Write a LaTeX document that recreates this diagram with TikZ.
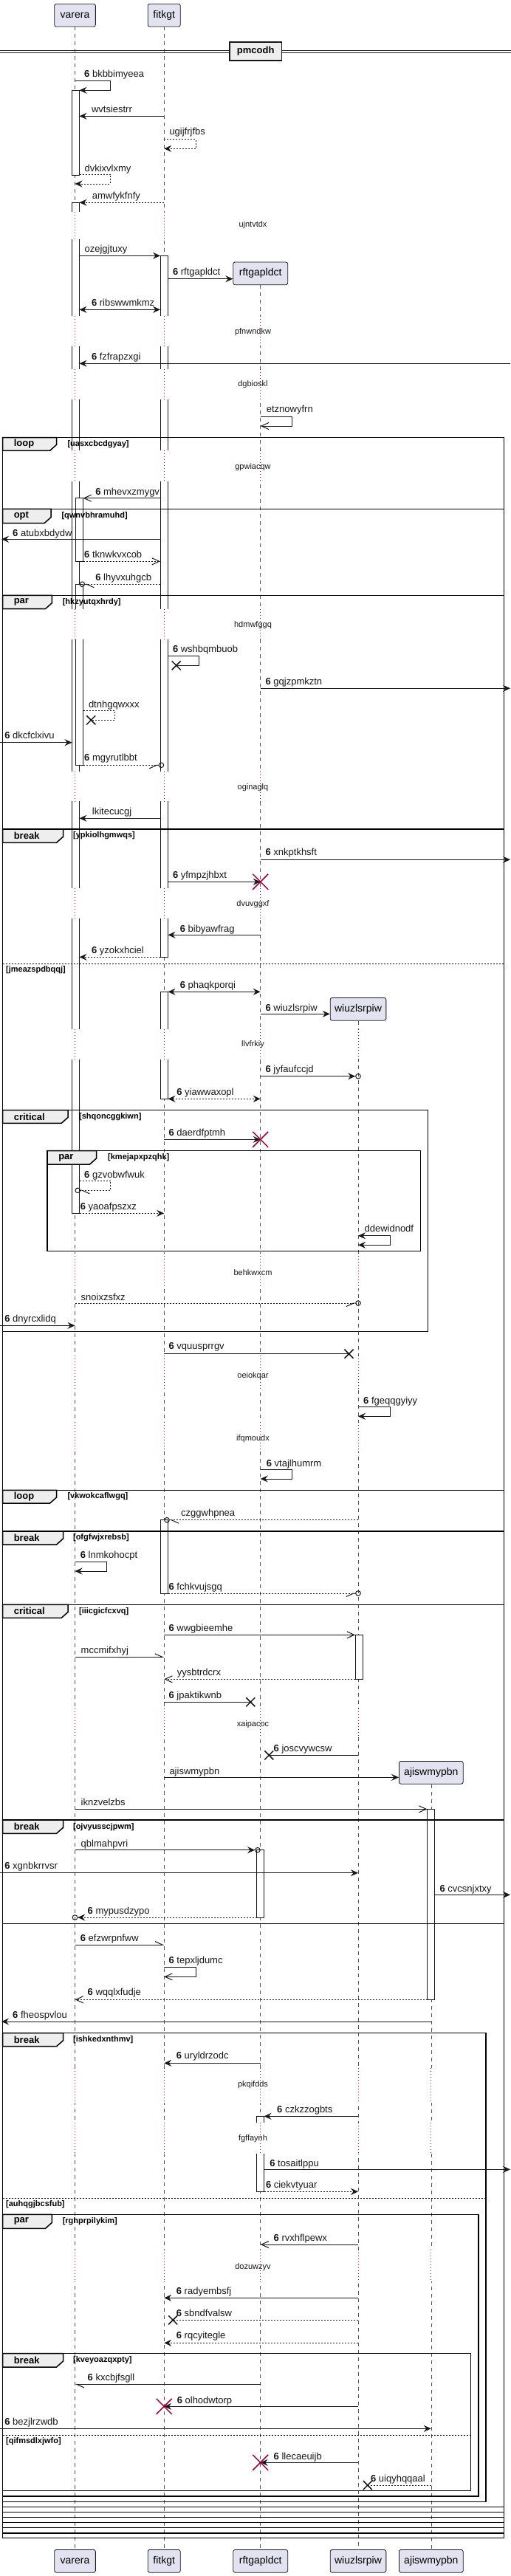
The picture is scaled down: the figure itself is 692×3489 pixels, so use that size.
\documentclass[tikz,border=0pt]{standalone}
\usepackage{fontspec}
\setmainfont{Liberation Sans}
\usetikzlibrary{arrows.meta,calc}
\definecolor{lc}{HTML}{181818}
\definecolor{pfill}{HTML}{E2E2F0}
\definecolor{tfill}{HTML}{EEEEEE}
\definecolor{dred}{HTML}{A80036}
\definecolor{llc}{HTML}{555555}
\newcommand\grpframe[9]{%
  \draw[frm] (#3,#1) rectangle (#4,#2);
  \filldraw[frm,fill=tfill] (#3,#1) -- (#5,#1) -- (#5,#6-8) -- (#5-9,#6) -- (#3,#6) -- cycle;
  \node[kwd] (k#8) at ({#3+15},{(#1+#6)/2}) {#7};
  \node[cnd] (c#8) at (#9,{(#1+#6)/2}) {[#8]};
}
\newcommand\bxm[1]{\draw[xm] ($(#1)+(-6,-6)$) -- ($(#1)+(6,6)$) ($(#1)+(-6,6)$) -- ($(#1)+(6,-6)$);}
\newcommand\rxm[1]{\draw[rxmk] ($(#1)+(-10.5,-10.5)$) -- ($(#1)+(10.5,10.5)$) ($(#1)+(-10.5,10.5)$) -- ($(#1)+(10.5,-10.5)$);}
\begin{document}
\begin{tikzpicture}[x=1pt,y=-1pt,
  lbl/.style={anchor=base west,inner sep=0pt,font=\fontsize{13pt}{15pt}\selectfont,text=lc},
  dlyt/.style={inner sep=0pt,font=\fontsize{11pt}{13pt}\selectfont,text=lc},
  kwd/.style={anchor=west,inner sep=0pt,font=\bfseries\fontsize{13pt}{15pt}\selectfont},
  cnd/.style={anchor=west,inner sep=0pt,font=\bfseries\fontsize{11pt}{13pt}\selectfont},
  part/.style={draw=lc,line width=0.8pt,fill=pfill,rounded corners=2.5pt,inner sep=0pt,minimum height=30.7pt,font=\fontsize{14pt}{16pt}\selectfont},
  act/.style={draw=lc,line width=1pt,fill=white},
  msg/.style={draw=lc,line width=1pt},
  dsh/.style={dash pattern=on 2pt off 2pt},
  lifel/.style={draw=llc,line width=0.6pt,dash pattern=on 5pt off 5pt},
  dotl/.style={draw=dred,line width=0.8pt,dash pattern=on 1pt off 3pt},
  frm/.style={draw=black,line width=1.5pt},
  elsel/.style={draw=black,line width=1pt,dash pattern=on 2pt off 2pt},
  xm/.style={draw=lc,line width=1.5pt},
  rxmk/.style={draw=dred,line width=1.5pt},
  tF/.style={-{Stealth[length=10pt,width=9pt,inset=3.5pt]}},
  tFF/.style={{Stealth[length=10pt,width=9pt,inset=3.5pt]}-{Stealth[length=10pt,width=9pt,inset=3.5pt]}},
  tO/.style={-{Straight Barb[length=10pt,width=9pt]}},
  tH/.style={-{Straight Barb[left,length=10pt,width=9pt]}},
  tFC/.style={-{Stealth[length=10pt,width=9pt,inset=3.5pt]Circle[open,length=7.6pt]}},
  tOCr/.style={-{Straight Barb[right,length=10pt,width=9pt]Circle[open,length=7.6pt]}},
  tOCl/.style={-{Straight Barb[left,length=10pt,width=9pt]Circle[open,length=7.6pt]}}
]
\useasboundingbox (0,0) rectangle (692,3489);
\fill[white] (0,0) rectangle (692,3489);
% lifeline coordinates
\coordinate (va) at (101.5,0);
\coordinate (vaL) at (97.5,0);
\coordinate (vaR) at (107.5,0);
\coordinate (vnR) at (112.5,0);
\coordinate (vaO) at (97.7,0);
\coordinate (fi) at (222.2,0);
\coordinate (fiL) at (217,0);
\coordinate (fiR) at (227.5,0);
\coordinate (rf) at (352.7,0);
\coordinate (rfL) at (347.5,0);
\coordinate (rfR) at (357.5,0);
\coordinate (wi) at (485,0);
\coordinate (wiL) at (481,0);
\coordinate (wiO) at (488.8,0);
\coordinate (aj) at (583.8,0);
\coordinate (ajL) at (578.5,0);
\coordinate (ajR) at (588.5,0);
\coordinate (LE) at (0,0);
\coordinate (LE2) at (2,0);
\coordinate (RE) at (691,0);
% participants
\node[part,minimum width=55.7pt] (pva) at (101.5,20.65) {varera};
\node[part,minimum width=44.1pt] (pfi) at (222.2,20.65) {fitkgt};
\node[part,minimum width=73.9pt] (prf) at (352.7,370.35) {rftgapldct};
\node[part,minimum width=75.7pt] (pwi) at (485,1366.8) {wiuzlsrpiw};
\node[part,minimum width=86.8pt] (paj) at (583.8,2400.8) {ajiswmypbn};
\node[part,minimum width=55.7pt] (bva) at (101.5,3468.8) {varera};
\node[part,minimum width=44.1pt] (bfi) at (222.2,3468.8) {fitkgt};
\node[part,minimum width=73.9pt] (brf) at (352.7,3468.8) {rftgapldct};
\node[part,minimum width=75.7pt] (bwi) at (485,3468.8) {wiuzlsrpiw};
\node[part,minimum width=86.8pt] (baj) at (583.8,3468.8) {ajiswmypbn};
% lifelines
\draw[lifel] (pva.south) -- (bva.north);
\draw[lifel] (pfi.south) -- (bfi.north);
\draw[lifel] (prf.south) -- (brf.north);
\draw[lifel] (pwi.south) -- (bwi.north);
\draw[lifel] (paj.south) -- (baj.north);
% activations
\draw[act] (97.5,122.3) rectangle (107.5,237.3);
\draw[act] (97.5,274.3) rectangle (107.5,1643.3);
\draw[act] (217,346.3) rectangle (227.5,1296.3);
\draw[act] (102.5,674.7) rectangle (112.5,760.3);
\draw[act] (102.5,791.3) rectangle (112.5,1036.3);
\draw[act] (217,1343.3) rectangle (227.5,1488.3);
\draw[act] (217,2058.7) rectangle (227.5,2158);
\draw[act] (481,2214.3) rectangle (491,2274.3);
\draw[act] (578.5,2450.3) rectangle (588.5,2708.3);
\draw[act] (347.5,2505.7) rectangle (357.5,2597.3);
\draw[act] (347.5,2866.3) rectangle (357.5,2968.3);
% delays
\foreach \ya/\yb/\yt/\tx in {287/324.3/304.3/ujntvtdx}{
  \fill[white] (0,\ya) rectangle (692,\yb);
  \foreach \xx in {101.5,222.2} \draw[dotl] (\xx,\ya) -- (\xx,\yb);
  \node[dlyt] (\tx) at (342.5,\yt) {\tx};
}
\foreach \ya/\yb/\yt/\tx in {427.7/469.3/449.3/pfnwndkw,500.3/541/521/dgbioskl,610.3/652/632.7/gpwiacqw,824.7/866/846.3/hdmwfggq,1044.7/1085/1066.3/oginaglq,1203/1244/1224.3/dvuvggxf}{
  \fill[white] (0,\ya) rectangle (692,\yb);
  \foreach \xx in {101.5,222.2,352.7} \draw[dotl] (\xx,\ya) -- (\xx,\yb);
  \node[dlyt] (\tx) at (342.5,\yt) {\tx};
}
\foreach \ya/\yb/\yt/\tx in {1394/1434.7/1415/llvfrkiy,1697/1745/1723.3/behkwxcm,1836/1883/1863.3/oeiokqar,1926/1966.7/1948.3/ifqmoudx,2313.7/2353/2335.3/xaipacoc}{
  \fill[white] (0,\ya) rectangle (692,\yb);
  \foreach \xx in {101.5,222.2,352.7,485} \draw[dotl] (\xx,\ya) -- (\xx,\yb);
  \node[dlyt] (\tx) at (342.5,\yt) {\tx};
}
\foreach \ya/\yb/\yt/\tx in {2801/2848/2824/pkqifdds,2875/2917/2896.3/fgffaynh,3046.7/3090/3070.3/dozuwzyv}{
  \fill[white] (0,\ya) rectangle (692,\yb);
  \foreach \xx in {101.5,222.2,352.7,485,583.8} \draw[dotl] (\xx,\ya) -- (\xx,\yb);
  \node[dlyt] (\tx) at (342.5,\yt) {\tx};
}
% frames
\grpframe{592.7}{3437.7}{3.6}{682.6}{76.6}{610.3}{loop}{uasxcbcdgyay}{91.3}
\grpframe{689.3}{3431}{3.6}{682.6}{69}{708.7}{opt}{qwnvbhramuhd}{83.3}
\grpframe{806.3}{3423.7}{3.6}{682.6}{70.4}{824.7}{par}{hkzyutqxhrdy}{84.6}
\grpframe{1123}{3416.7}{3.6}{682.6}{85.5}{1141.3}{break}{ypkiolhgmwqs}{98.9}
\grpframe{1503.7}{1803.3}{3.6}{579.4}{92.2}{1521.3}{critical}{shqoncggkiwn}{106.9}
\grpframe{1558.7}{1694.3}{64.1}{569.5}{130.5}{1577}{par}{kmejapxpzqhk}{146}
\grpframe{2018.3}{3409.3}{3.6}{682.6}{76.6}{2036}{loop}{vkwokcaflwgq}{91.3}
\grpframe{2074}{3402.3}{3.6}{682.6}{85.5}{2092}{break}{ofgfwjxrebsb}{98.9}
\grpframe{2173.3}{3395.3}{3.6}{682.6}{92.2}{2191.3}{critical}{iiicgicfcxvq}{106.9}
\grpframe{2465}{2605.3}{3.6}{682.6}{85.5}{2483.3}{break}{ojvyusscjpwm}{98.9}
\grpframe{2753.7}{3388.3}{3.6}{658.2}{85.5}{2771.7}{break}{ishkedxnthmv}{98.9}
\grpframe{2999.3}{3381}{3.6}{647.9}{70.4}{3018.3}{par}{rghprpilykim}{84.6}
\grpframe{3187.7}{3373.7}{3.6}{637.7}{85.5}{3206}{break}{kveyoazqxpty}{98.9}
\draw[elsel] (3.6,1305) -- (682.6,1305);
\node[cnd] (e1) at (8,1313.3) {[jmeazspdbqqj]};
\draw[elsel] (3.6,2977.3) -- (658.2,2977.3);
\node[cnd] (e2) at (8,2985.3) {[auhqgjbcsfub]};
\draw[elsel] (3.6,3298.3) -- (637.7,3298.3);
\node[cnd] (e3) at (8,3306.3) {[qifmsdlxjwfo]};
% divider
\draw[draw=lc,line width=1pt] (0,68.5) -- (692,68.5) (0,71.5) -- (692,71.5);
\node[draw=lc,line width=1.5pt,fill=tfill,minimum width=70.8pt,minimum height=25pt,inner sep=0pt,font=\bfseries\fontsize{13pt}{15pt}\selectfont] (sepb) at (346.2,69.5) {pmcodh};
% X coordinates
\coordinate (x15) at (238.7,901.3);
\coordinate (x17) at (123.3,975.3);
\coordinate (x35) at (472.5,1833.7);
\coordinate (x44) at (339.3,2305.3);
\coordinate (x45) at (364.3,2377.3);
\coordinate (x62) at (234.2,3142.3);
\coordinate (x68) at (497.8,3366);
\coordinate (r22) at (rf |- 0,1194.3);
\coordinate (r29) at (rf |- 0,1543.3);
\coordinate (r65) at (fi |- 0,3259.3);
\coordinate (r67) at (rf |- 0,3335.3);
% messages
\draw[msg,tF] (va |- 0,109.3) -| (149.6,122.3) -- (vaR |- 0,122.3);
\node[lbl] (l1) at (114,104) {\textbf{6} bkbbimyeea};
\draw[msg,tF] (fi |- 0,157.3) -- (vaR |- 0,157.3);
\node[lbl] (l2) at (123.8,152.7) {wvtsiestrr};
\draw[msg,dsh,tF] (fi |- 0,188.3) -| (265,201.3) -- (fi |- 0,201.3);
\node[lbl] (l3) at (229.3,182.7) {ugijfrjfbs};
\draw[msg,dsh,tF] (vaR |- 0,236.3) -| (149.6,249) -- (va |- 0,249);
\node[lbl] (l4) at (114.4,232.3) {dvkixvlxmy};
\draw[msg,dsh,tF] (fi |- 0,274.3) -- (vaR |- 0,274.3);
\node[lbl] (l5) at (124.7,269.7) {amwfykfnfy};
\draw[msg,tF] (vaR |- 0,346.3) -- (fiL |- 0,346.3);
\node[lbl] (l6) at (114.4,341.7) {ozejgjtuxy};
\draw[msg,tF] (fiR |- 0,377.7) -- (prf.west |- 0,377.7);
\node[lbl] (l7) at (233.8,372) {\textbf{6} rftgapldct};
\draw[msg,tFF] (vaR |- 0,419.3) -- (fiL |- 0,419.3);
\node[lbl] (l8) at (123.8,414.3) {\textbf{6} ribswwmkmz};
\draw[msg,tF] (RE |- 0,492.3) -- (vaR |- 0,492.3);
\node[lbl] (l9) at (123.8,487) {\textbf{6} fzfrapzxgi};
\draw[msg,tO] (rf |- 0,564.3) -| (395,577) -- (rf |- 0,577);
\node[lbl] (l10) at (360.7,558.7) {etznowyfrn};
\draw[msg,tO] (fiL |- 0,674.7) -- (vnR |- 0,674.7);
\node[lbl] (l11) at (129.1,670.3) {\textbf{6} mhevxzmygv};
\draw[msg,tF] (fiL |- 0,730.3) -- (LE2 |- 0,730.3);
\node[lbl] (l12) at (17,726) {\textbf{6} atubxbdydw};
\draw[msg,dsh,tO] (vnR |- 0,760.3) -- (fiL |- 0,760.3);
\node[lbl] (l13) at (114,755) {\textbf{6} tknwkvxcob};
\draw[msg,dsh,tOCl] (fiL |- 0,791.3) -- (vaR |- 0,791.3);
\node[lbl] (l14) at (129.1,786) {\textbf{6} lhyvxuhgcb};
\draw[msg] (fiR |- 0,888.3) -| (269.9,901.3) -- (x15);
\bxm{x15}
\node[lbl] (l15) at (233.8,883.7) {\textbf{6} wshbqmbuob};
\draw[msg,tF] (rf |- 0,932.3) -- (RE |- 0,932.3);
\node[lbl] (l16) at (359.4,927) {\textbf{6} gqjzpmkztn};
\draw[msg,dsh] (vnR |- 0,962.3) -| (155,975.3) -- (x17);
\bxm{x17}
\node[lbl] (l17) at (119.8,958) {dtnhgqwxxx};
\draw[msg,tF] (LE |- 0,1005.7) -- (vaL |- 0,1005.7);
\node[lbl] (l18) at (6.2,1000.7) {\textbf{6} dkcfclxivu};
\draw[msg,dsh,tOCr] (vnR |- 0,1036.3) -- (fi |- 0,1036.3);
\node[lbl] (l19) at (114,1030.7) {\textbf{6} mgyrutlbbt};
\draw[msg,tF] (fiL |- 0,1108.3) -- (vaR |- 0,1108.3);
\node[lbl] (l20) at (124.7,1103) {lkitecucgj};
\draw[msg,tF] (rf |- 0,1164.3) -- (RE |- 0,1164.3);
\node[lbl] (l21) at (359.4,1158.7) {\textbf{6} xnkptkhsft};
\draw[msg,tF] (fiR |- 0,1194.3) -- (r22);
\rxm{r22}
\node[lbl] (l22) at (233.8,1189.7) {\textbf{6} yfmpzjhbxt};
\draw[msg,tF] (rf |- 0,1266.3) -- (fiR |- 0,1266.3);
\node[lbl] (l23) at (243.6,1262.3) {\textbf{6} bibyawfrag};
\draw[msg,dsh,tF] (fiL |- 0,1296.3) -- (vaR |- 0,1296.3);
\node[lbl] (l24) at (123.8,1291.7) {\textbf{6} yzokxhciel};
\draw[msg,tFF] (fiR |- 0,1343.3) -- (rf |- 0,1343.3);
\node[lbl] (l25) at (243.6,1338) {\textbf{6} phaqkporqi};
\draw[msg,tF] (rf |- 0,1373.3) -- (pwi.west |- 0,1373.3);
\node[lbl] (l26) at (359.4,1369) {\textbf{6} wiuzlsrpiw};
\draw[msg,tFC] (rf |- 0,1457.7) -- (wiO |- 0,1457.7);
\node[lbl] (l27) at (359.4,1452.3) {\textbf{6} jyfaufccjd};
\draw[msg,dsh,tFF] (fiR |- 0,1488.3) -- (rf |- 0,1488.3);
\node[lbl] (l28) at (239.1,1483.3) {\textbf{6} yiawwaxopl};
\draw[msg,tF] (fi |- 0,1543.3) -- (r29);
\rxm{r29}
\node[lbl] (l29) at (228.4,1538.3) {\textbf{6} daerdfptmh};
\draw[msg,dsh,tOCl] (vaR |- 0,1599.3) -| (149.6,1612.3) -- (va |- 0,1612.3);
\node[lbl] (l30) at (114,1595) {\textbf{6} gzvobwfwuk};
\draw[msg,dsh,tF] (vaR |- 0,1643.3) -- (fi |- 0,1643.3);
\node[lbl] (l31) at (108.7,1638.3) {\textbf{6} yaoafpszxz};
\draw[msg,tFF] (wi |- 0,1673.7) -| (528.2,1686.3) -- (wi |- 0,1686.3);
\node[lbl] (l32) at (493.4,1668.3) {ddewidnodf};
\draw[msg,dsh,tOCr] (va |- 0,1765) -- (wiO |- 0,1765);
\node[lbl] (l33) at (109.5,1761) {snoixzsfxz};
\draw[msg,tF] (LE |- 0,1795.3) -- (va |- 0,1795.3);
\node[lbl] (l34) at (6.2,1790.3) {\textbf{6} dnyrcxlidq};
\draw[msg] (fi |- 0,1833.7) -- (x35);
\bxm{x35}
\node[lbl] (l35) at (228.4,1827.7) {\textbf{6} vquusprrgv};
\draw[msg,tF] (wi |- 0,1905.3) -| (528.2,1918.3) -- (wi |- 0,1918.3);
\node[lbl] (l36) at (492,1901) {\textbf{6} fgeqqgyiyy};
\draw[msg,tF] (rf |- 0,1990.3) -| (395,2003) -- (rf |- 0,2003);
\node[lbl] (l37) at (360.7,1986) {\textbf{6} vtajlhumrm};
\draw[msg,dsh,tOCl] (wi |- 0,2058.7) -- (fi |- 0,2058.7);
\node[lbl] (l38) at (245,2053.7) {czggwhpnea};
\draw[msg,tF] (va |- 0,2115.3) -| (144.7,2128) -- (va |- 0,2128);
\node[lbl] (l39) at (108.7,2110.3) {\textbf{6} lnmkohocpt};
\draw[msg,dsh,tOCr] (fiR |- 0,2158) -- (wiO |- 0,2158);
\node[lbl] (l40) at (228.4,2153.7) {\textbf{6} fchkvujsgq};
\draw[msg,tO] (fi |- 0,2214.3) -- (wiL |- 0,2214.3);
\node[lbl] (l41) at (228.4,2209.3) {\textbf{6} wwgbieemhe};
\draw[msg,tH] (va |- 0,2244.3) -- (fi |- 0,2244.3);
\node[lbl] (l42) at (109.5,2239.3) {mccmifxhyj};
\draw[msg,dsh,tO] (wiL |- 0,2274.3) -- (fi |- 0,2274.3);
\node[lbl] (l43) at (239.6,2269.3) {yysbtrdcrx};
\draw[msg] (fi |- 0,2305.3) -- (x44);
\bxm{x44}
\node[lbl] (l44) at (228.4,2300.3) {\textbf{6} jpaktikwnb};
\draw[msg] (wi |- 0,2377.3) -- (x45);
\bxm{x45}
\node[lbl] (l45) at (370.5,2372.3) {\textbf{6} joscvywcsw};
\draw[msg,tF] (fi |- 0,2407.3) -- (paj.west |- 0,2407.3);
\node[lbl] (l46) at (229.3,2403) {ajiswmypbn};
\draw[msg,tO] (va |- 0,2450.3) -- (ajL |- 0,2450.3);
\node[lbl] (l47) at (109.5,2445.3) {iknzvelzbs};
\draw[msg,tFC] (va |- 0,2505.7) -- (rf |- 0,2505.7);
\node[lbl] (l48) at (109.5,2501.3) {qblmahpvri};
\draw[msg,tF] (LE |- 0,2536.7) -- (wi |- 0,2536.7);
\node[lbl] (l49) at (6.2,2531.3) {\textbf{6} xgnbkrrvsr};
\draw[msg,tF] (ajR |- 0,2566.3) -- (RE |- 0,2566.3);
\node[lbl] (l50) at (595.4,2562.3) {\textbf{6} cvcsnjxtxy};
\draw[msg,dsh,tFC] (rfL |- 0,2597) -- (vaO |- 0,2597);
\node[lbl] (l51) at (118.5,2592.3) {\textbf{6} mypusdzypo};
\draw[msg,tH] (va |- 0,2634) -- (fi |- 0,2634);
\node[lbl] (l52) at (108.7,2629) {\textbf{6} efzwrpnfww};
\draw[msg,tO] (fi |- 0,2664.7) -| (265,2677.3) -- (fi |- 0,2677.3);
\node[lbl] (l53) at (228.4,2659.7) {\textbf{6} tepxljdumc};
\draw[msg,dsh,tO] (ajL |- 0,2708.3) -- (va |- 0,2708.3);
\node[lbl] (l54) at (118.5,2702.3) {\textbf{6} wqqlxfudje};
\draw[msg,tF] (aj |- 0,2738) -- (LE2 |- 0,2738);
\node[lbl] (l55) at (17,2733.3) {\textbf{6} fheospvlou};
\draw[msg,tF] (rf |- 0,2794.3) -- (fi |- 0,2794.3);
\node[lbl] (l56) at (238.7,2788.3) {\textbf{6} uryldrzodc};
\draw[msg,tF] (wi |- 0,2866.3) -- (rfR |- 0,2866.3);
\node[lbl] (l57) at (375,2861.3) {\textbf{6} czkzzogbts};
\draw[msg,tF] (rfR |- 0,2938.3) -- (RE |- 0,2938.3);
\node[lbl] (l58) at (365.1,2934) {\textbf{6} tosaitlppu};
\draw[msg,dsh,tF] (rfR |- 0,2968.3) -- (wi |- 0,2968.3);
\node[lbl] (l59) at (359.8,2963.3) {\textbf{6} ciekvtyuar};
\draw[msg,tO] (wi |- 0,3040) -- (rf |- 0,3040);
\node[lbl] (l60) at (370.5,3035.7) {\textbf{6} rvxhflpewx};
\draw[msg,tF] (wi |- 0,3112.3) -- (fi |- 0,3112.3);
\node[lbl] (l61) at (238.7,3107.3) {\textbf{6} radyembsfj};
\draw[msg,dsh] (wi |- 0,3142.3) -- (x62);
\bxm{x62}
\node[lbl] (l62) at (238.7,3137.3) {\textbf{6} sbndfvalsw};
\draw[msg,dsh,tF] (wi |- 0,3173.3) -- (fi |- 0,3173.3);
\node[lbl] (l63) at (238.7,3167.7) {\textbf{6} rqcyitegle};
\draw[msg,tH] (rf |- 0,3229.3) -- (va |- 0,3229.3);
\node[lbl] (l64) at (118.5,3224.3) {\textbf{6} kxcbjfsgll};
\draw[msg,tF] (wi |- 0,3259.3) -- (r65);
\rxm{r65}
\node[lbl] (l65) at (239.6,3255) {\textbf{6} olhodwtorp};
\draw[msg,tF] (LE |- 0,3289.3) -- (aj |- 0,3289.3);
\node[lbl] (l66) at (6.2,3284.3) {\textbf{6} bezjlrzwdb};
\draw[msg,tF] (wi |- 0,3335.3) -- (r67);
\rxm{r67}
\node[lbl] (l67) at (370.5,3331) {\textbf{6} llecaeuijb};
\draw[msg,dsh] (aj |- 0,3366) -- (x68);
\bxm{x68}
\node[lbl] (l68) at (501.9,3361) {\textbf{6} uiqyhqqaal};
\end{tikzpicture}
\end{document}
